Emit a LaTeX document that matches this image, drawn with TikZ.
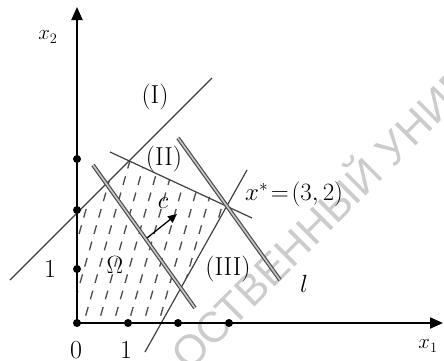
\documentclass[tikz,border=0pt]{standalone}
\usepackage{fontspec}
\newfontfamily\wmfont{Liberation Sans}
\usetikzlibrary{arrows.meta}
\begin{document}
\begin{tikzpicture}[x=1pt,y=-1pt,
  axis/.style={line width=2pt,-{Triangle[length=13pt,width=11pt]}},
  thinline/.style={line width=1.2pt,black!75},
  levelline/.style={draw=black!70,line width=1.2pt,double=black!22,double distance=1.6pt},
  dot/.style={circle,fill=black,inner sep=0pt,minimum size=8pt},
  lbl/.style={font=\fontsize{26}{28}\selectfont,inner sep=0pt},
  axlbl/.style={font=\fontsize{22}{24}\selectfont,inner sep=0pt},
  hatch/.style={line width=1.3pt,black!70,dash pattern=on 9pt off 8pt},
  wm/.style={font=\wmfont\fontsize{43}{45}\selectfont,text=black!20,inner sep=0pt}]
\useasboundingbox (0,0) rectangle (444,360);
\clip (0,0) rectangle (444,360);
% watermark
\node[wm,rotate=45,anchor=base west] (wmB) at (189,373) {ОСТВЕННЫЙ УНИВЕРСИТЕТ};
% coordinates
\coordinate (O) at (77,323);
\coordinate (ytop) at (77,7);
\coordinate (xend) at (443,323);
\coordinate (I1) at (10,280);
\coordinate (I2) at (212,78);
\coordinate (II1) at (110,152);
\coordinate (II2) at (252,218);
\coordinate (III1) at (145,352);
\coordinate (III2) at (247,170);
\coordinate (L1a) at (93,165);
\coordinate (L1b) at (195,308);
\coordinate (L2a) at (178,138);
\coordinate (L2b) at (280,280);
\coordinate (P1) at (77,213);
\coordinate (P2) at (129,161);
\coordinate (xs) at (228,205);
\coordinate (P4) at (161,323);
\coordinate (cA) at (147,238);
\coordinate (cB) at (177,214);
% hatching
\begin{scope}
  \clip (O) -- (P1) -- (P2) -- (xs) -- (P4) -- cycle;
  \foreach \i in {0,...,12}
    \draw[hatch] (36+\i*15,332) -- ++(60,-210);
\end{scope}
% lines
\draw[thinline] (I1) -- (I2);
\draw[thinline] (II1) -- (II2);
\draw[thinline] (III1) -- (III2);
\draw[levelline] (L1a) -- (L1b);
\draw[levelline] (L2a) -- (L2b);
\draw[line width=1.3pt,-{Triangle[length=9pt,width=8pt]}] (cA) -- (cB);
% axes
\draw[axis] (O) -- (ytop);
\draw[axis] (O) -- (xend);
\node[dot] (y0) at (77,323) {};
\node[dot] (y1) at (77,269) {};
\node[dot] (y2) at (77,210) {};
\node[dot] (y3) at (77,159) {};
\node[dot] (x1) at (128,323) {};
\node[dot] (x2) at (178,323) {};
\node[dot] (x3) at (229,323) {};
% labels
\node[axlbl] (lx2) at (48,37) {$x_2$};
\node[axlbl] (lx1) at (428,346) {$x_1$};
\node[lbl] (l0) at (76,350) {0};
\node[lbl] (l1x) at (126,350) {1};
\node[lbl] (l1y) at (50,269) {1};
\node[lbl] (rI) at (155,97) {(I)};
\node[lbl] (rII) at (164,159) {(II)};
\node[lbl] (rIII) at (228,269) {(III)};
\node[font=\fontsize{30}{32}\selectfont,inner sep=0pt] (om) at (115,265) {$\Omega$};
\node[font=\fontsize{28}{30}\selectfont,inner sep=0pt] (lc) at (163,203) {$c$};
\node[font=\fontsize{25}{27}\selectfont,inner sep=0pt,anchor=west] (lxs) at (245,194) {$x^{*}\!=\!(3,2)$};
\node[font=\fontsize{30}{32}\selectfont,inner sep=0pt] (ll) at (304,284) {$l$};
\end{tikzpicture}
\end{document}
